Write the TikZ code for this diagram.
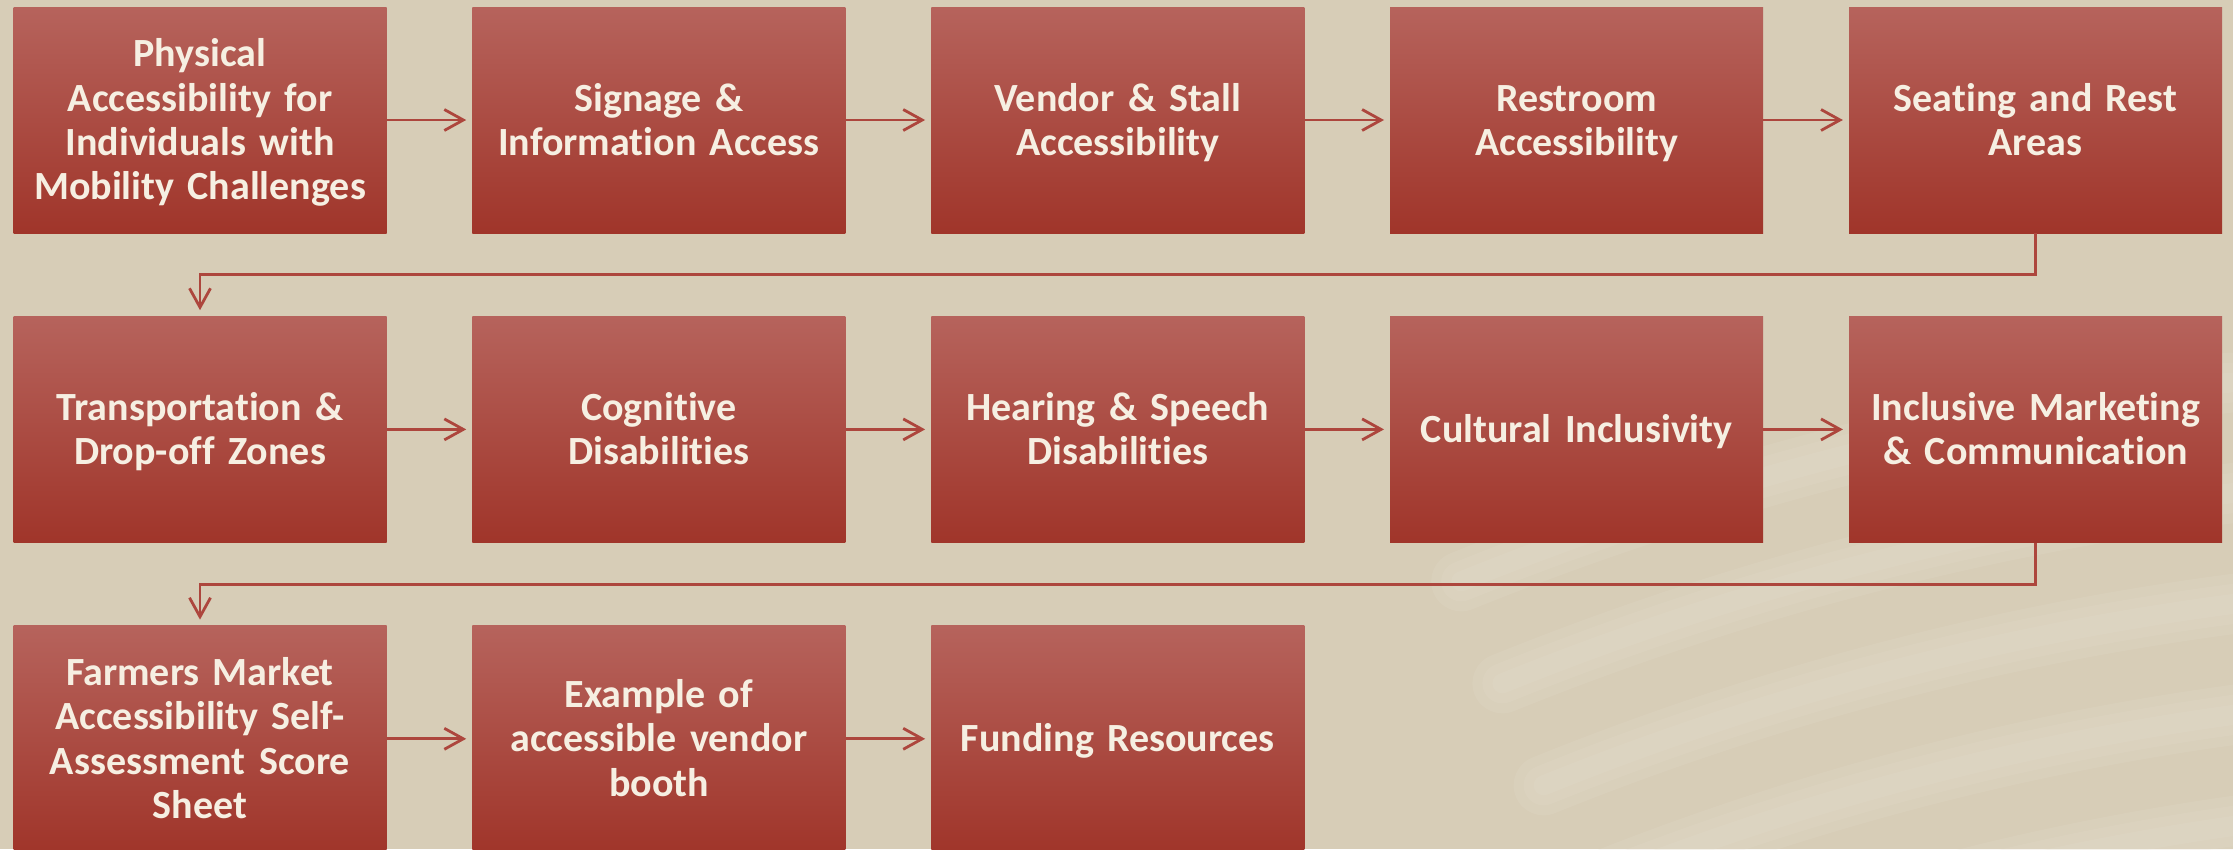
\documentclass[tikz,border=0pt]{standalone}
\usepackage{fontspec}
\setmainfont[Ligatures = NoCommon]{Carlito}
\usetikzlibrary{positioning,arrows.meta}

\definecolor{sand}{HTML}{D7CDB7}
\definecolor{sandlight}{HTML}{E6DFD0}
\definecolor{boxtop}{HTML}{B6635C}
\definecolor{boxmid}{HTML}{AC463C}
\definecolor{boxbot}{HTML}{A0352A}
\definecolor{boxtext}{HTML}{F6EFE2}
\definecolor{linkred}{HTML}{AD463D}

\tikzset{
	stepbox/.style = {rectangle, inner sep = 0pt, minimum width = 373pt, minimum height = 226pt,
		text width = 360pt, align = center, top color = boxtop, middle color = boxmid,
		bottom color = boxbot, text = boxtext, font = \bfseries\fontsize{40}{44.3}\selectfont,
		execute at begin node = \rule{0pt}{39.6pt}, execute at end node = \strut},
	flow/.style = {draw = linkred, line width = 2.8pt, shorten > = 6pt,
		-{Straight Barb[length = 19pt, width = 21pt]}}
}

\begin{document}
\begin{tikzpicture}[x = 1pt, y = 1pt, node distance = 83pt and 85.5pt]
	\clip (0,0) rectangle (2233,-849);
	\fill[sand] (0,0) rectangle (2233,-849);
	% faint swirl in the backdrop
	\foreach \r in {0, 110, 220, 330, 440}
		\foreach \w in {60, 40, 20}
			{\draw[sandlight, opacity = 0.18, line width = \w pt, line cap = round] (2600,-3400) ++(112:\r+2600) arc (112:97:\r+2600);}

	\node[stepbox] (phys) at (200,-120) {Physical\\Accessibility for\\Individuals with\\Mobility Challenges};
	\node[stepbox, right = of phys] (sign) {Signage \&\\Information Access};
	\node[stepbox, right = of sign] (vend) {Vendor \& Stall\\Accessibility};
	\node[stepbox, right = of vend] (rest) {Restroom\\Accessibility};
	\node[stepbox, right = of rest] (seat) {Seating and Rest\\Areas};

	\node[stepbox, below = of phys] (trans) {Transportation \&\\Drop-off Zones};
	\node[stepbox, right = of trans] (cogn) {Cognitive\\Disabilities};
	\node[stepbox, right = of cogn] (hear) {Hearing \& Speech\\Disabilities};
	\node[stepbox, right = of hear] (cult) {Cultural Inclusivity};
	\node[stepbox, right = of cult] (mark) {Inclusive Marketing\\\& Communication};

	\node[stepbox, below = of trans] (score) {Farmers Market\\Accessibility Self-\\Assessment Score\\Sheet};
	\node[stepbox, right = of score] (booth) {Example of\\accessible vendor\\booth};
	\node[stepbox, right = of booth] (fund) {Funding Resources};

	\foreach \a/\b in {phys/sign, sign/vend, vend/rest, rest/seat,
		trans/cogn, cogn/hear, hear/cult, cult/mark, score/booth, booth/fund}
		{\draw[flow] (\a.east) -- (\b.west);}

	\draw[flow] (seat.south) -- ++(0,-41.5) -| (trans.north);
	\draw[flow] (mark.south) -- ++(0,-41.5) -| (score.north);
\end{tikzpicture}
\end{document}
